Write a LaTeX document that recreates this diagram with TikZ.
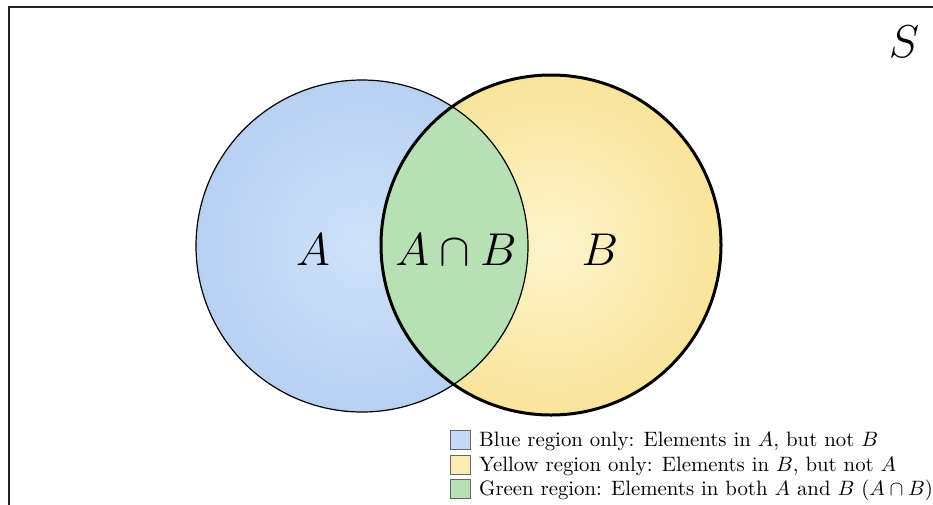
\RequirePackage{fix-cm}
\documentclass[tikz,border=0pt]{standalone}
\usepackage{graphicx}
\begin{document}
\begin{tikzpicture}[x=1pt,y=-1pt,
  biglabel/.style={font=\fontsize{46}{50}\selectfont, inner sep=0pt},
  legendbox/.style={draw=black!60, line width=0.8pt, minimum width=20pt, minimum height=19pt, inner sep=0pt},
  legendtext/.style={anchor=base west, inner sep=0pt, font=\fontsize{10}{12}\selectfont}]
\definecolor{blueIn}{RGB}{206,225,248}
\definecolor{blueOut}{RGB}{184,209,242}
\definecolor{yelIn}{RGB}{253,244,203}
\definecolor{yelOut}{RGB}{249,228,155}
\definecolor{greenFill}{RGB}{183,224,180}
\definecolor{frameCol}{RGB}{35,35,35}
\useasboundingbox (0,0) rectangle (933,504);
\clip (0,0) rectangle (933,504);
\fill[white] (0,0) rectangle (933,504);
% universal set frame
\draw[line width=2pt, frameCol] (9,7) rectangle (960,540);
% circle centres
\coordinate (ca) at (362,246);
\coordinate (cb) at (551,245);
% circle A shaded
\shade[inner color=blueIn, outer color=blueOut] (ca) circle (166);
% circle B shaded
\shade[inner color=yelIn, outer color=yelOut] (cb) circle (170);
% intersection
\begin{scope}
  \clip (ca) circle (166);
  \fill[greenFill] (cb) circle (170);
\end{scope}
% outlines
\draw[line width=1.2pt, black] (ca) circle (166);
\draw[line width=3pt, black] (cb) circle (170);
% labels
\node[biglabel] (la) at (313,250) {$A$};
\node[biglabel] (lab) at (456,250) {$A\cap B$};
\node[biglabel] (lb) at (600,250) {$B$};
\node[biglabel] (ls) at (904,42) {$S$};
% legend
\node[legendbox, fill=blueIn!50!blueOut] (k1) at (460,440) {};
\node[legendbox, fill=yelIn!50!yelOut] (k2) at (460,465) {};
\node[legendbox, fill=greenFill] (k3) at (460,489) {};
\node[legendtext] (t1) at (479,446) {\scalebox{2.08}{Blue region only: Elements in $A$, but not $B$}};
\node[legendtext] (t2) at (479,471) {\scalebox{2.08}{Yellow region only: Elements in $B$, but not $A$}};
\node[legendtext] (t3) at (479,495) {\scalebox{2.08}{Green region: Elements in both $A$ and $B$ ($A\cap B$)}};
\end{tikzpicture}
\end{document}
